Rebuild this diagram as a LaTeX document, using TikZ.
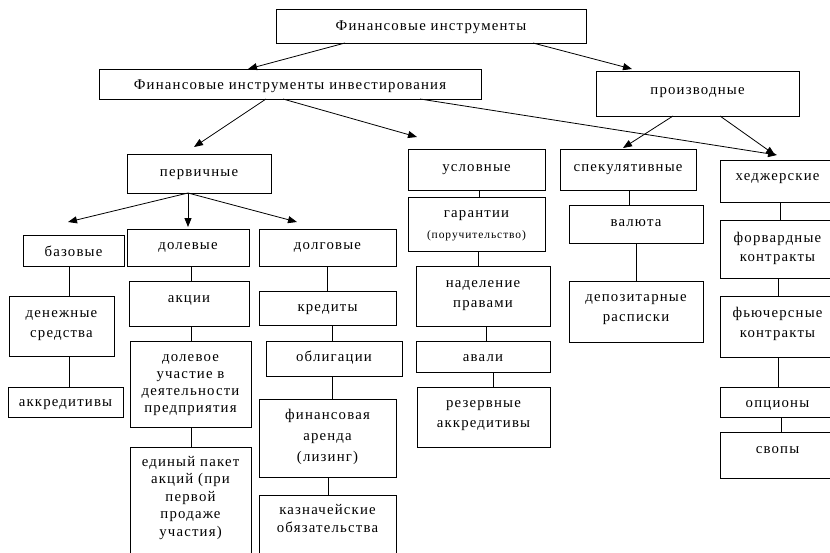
\documentclass[tikz,border=0pt]{standalone}
\usepackage{fontspec}
\setmainfont{Liberation Serif}[LetterSpace=8]
\usetikzlibrary{arrows.meta,calc}
\newcommand{\bx}[8]{%
 \pgfmathsetmacro{\bw}{#4-#2}%
 \pgfmathsetmacro{\bh}{#5-#3}%
 \pgfmathsetmacro{\boff}{#6-#3}%
 \node[box,anchor=north west] (#1) at (#2,#3) {\parbox[c][\bh pt][t]{\bw pt}{\centering\fontsize{14.8}{#7}\selectfont\vspace*{\dimexpr\boff pt-\ht\strutbox\relax}\strut #8\par}};}
\newcommand{\vl}[3]{\draw[conn] (#1.south -| #3,0) -- (#2.north -| #3,0);}
\begin{document}
\begin{tikzpicture}[x=1pt,y=-1pt,
  box/.style={draw,line width=0.9pt,inner sep=0pt,outer sep=0pt},
  conn/.style={line width=0.9pt},
  arr/.style={line width=0.8pt,-{Triangle[length=9pt,width=7pt]}}]
\useasboundingbox (0,0) rectangle (830,552);
\fill[white] (0,0) rectangle (830,552);
\clip (0,0) rectangle (830,552);
% level 0-1
\bx{top}{276}{9}{586}{43}{30}{17}{Финансовые инструменты}
\bx{inv}{99}{69}{481}{99}{89}{17}{Финансовые инструменты инвестирования}
\bx{proizv}{596}{71}{799}{116}{94}{17}{производные}
% level 2
\bx{perv}{127}{154}{271}{193}{176}{17}{первичные}
\bx{uslov}{408}{149}{545}{190}{171}{17}{условные}
\bx{spek}{560}{149}{696}{190}{171}{17}{спекулятивные}
\bx{hedg}{720}{160}{835}{202}{180}{17}{хеджерские}
% level 3
\bx{baz}{23}{235}{124}{266}{256}{17}{базовые}
\bx{dolev}{127}{229}{249}{266}{249}{17}{долевые}
\bx{dolg}{259}{229}{396}{266}{249}{17}{долговые}
% base column
\bx{den}{9}{296}{114}{356}{317}{20}{денежные\\средства}
\bx{akkr}{8}{387}{123}{417}{406}{17}{аккредитивы}
% equity column
\bx{akc}{129}{281}{249}{326}{302}{17}{акции}
\bx{dolu}{130}{341}{251}{427}{361}{17}{долевое\\участие в\\деятельности\\предприятия}
\bx{edin}{130}{447}{251}{560}{466}{17.5}{единый пакет\\акций (при\\первой\\продаже\\участия)}
% debt column
\bx{kred}{259}{291}{396}{325}{311}{17}{кредиты}
\bx{obl}{266}{341}{402}{376}{361}{17}{облигации}
\bx{fin}{259}{399}{396}{477}{419}{21}{финансовая\\аренда\\(лизинг)}
\bx{kazn}{259}{495}{396}{560}{514}{18}{казначейские\\обязательства}
% conditional column
\bx{gar}{408}{197}{545}{251}{217}{21}{гарантии\\{\fontsize{11.5}{21}\selectfont(поручительство)}}
\bx{nad}{416}{266}{550}{326}{287}{20}{наделение\\правами}
\bx{aval}{416}{341}{550}{372}{361}{17}{авали}
\bx{rez}{417}{387}{550}{447}{407}{20}{резервные\\аккредитивы}
% speculative column
\bx{val}{569}{205}{703}{243}{226}{17}{валюта}
\bx{dep}{569}{281}{703}{342}{301}{20}{депозитарные\\расписки}
% hedging column
\bx{forw}{720}{220}{835}{278}{242}{19.5}{форвардные\\контракты}
\bx{fut}{720}{296}{835}{357}{317}{20}{фьючерсные\\контракты}
\bx{opc}{720}{387}{835}{417}{407}{17}{опционы}
\bx{svop}{720}{432}{835}{478}{453}{17}{свопы}
% arrows
\draw[arr] (top.south -| 345,0) -- (inv.north -| 248,0);
\draw[arr] (top.south -| 533,0) -- ($(proizv.north -| 632,0)+(0,-2)$);
\draw[arr] (inv.south -| 266,0) -- ($(perv.north -| 194,0)+(0,-7)$);
\draw[arr] (inv.south -| 283,0) -- ($(uslov.north -| 417,0)+(0,-12)$);
\draw[arr] (inv.south -| 420,0) -- ($(hedg.north -| 777,0)+(0,-5)$);
\draw[arr] (proizv.south -| 673,0) -- ($(spek.north -| 623,0)+(0,-1)$);
\draw[arr] (proizv.south -| 720,0) -- ($(hedg.north -| 775,0)+(0,-5)$);
\draw[arr] (perv.south -| 188,0) -- ($(baz.north -| 68,0)+(0,-13)$);
\draw[arr] (perv.south -| 188,0) -- ($(dolev.north -| 188,0)+(0,-2)$);
\draw[arr] (perv.south -| 188,0) -- ($(dolg.north -| 297,0)+(0,-7)$);
% vertical connectors
\vl{baz}{den}{69}
\vl{den}{akkr}{69}
\vl{dolev}{akc}{191}
\vl{akc}{dolu}{191}
\vl{dolu}{edin}{191}
\vl{dolg}{kred}{327}
\vl{kred}{obl}{332}
\vl{obl}{fin}{332}
\vl{fin}{kazn}{328}
\vl{uslov}{gar}{479}
\vl{gar}{nad}{478}
\vl{nad}{aval}{486}
\vl{aval}{rez}{493}
\vl{spek}{val}{629}
\vl{val}{dep}{636}
\vl{hedg}{forw}{780}
\vl{forw}{fut}{778}
\vl{fut}{opc}{778}
\vl{opc}{svop}{781}
\end{tikzpicture}
\end{document}
